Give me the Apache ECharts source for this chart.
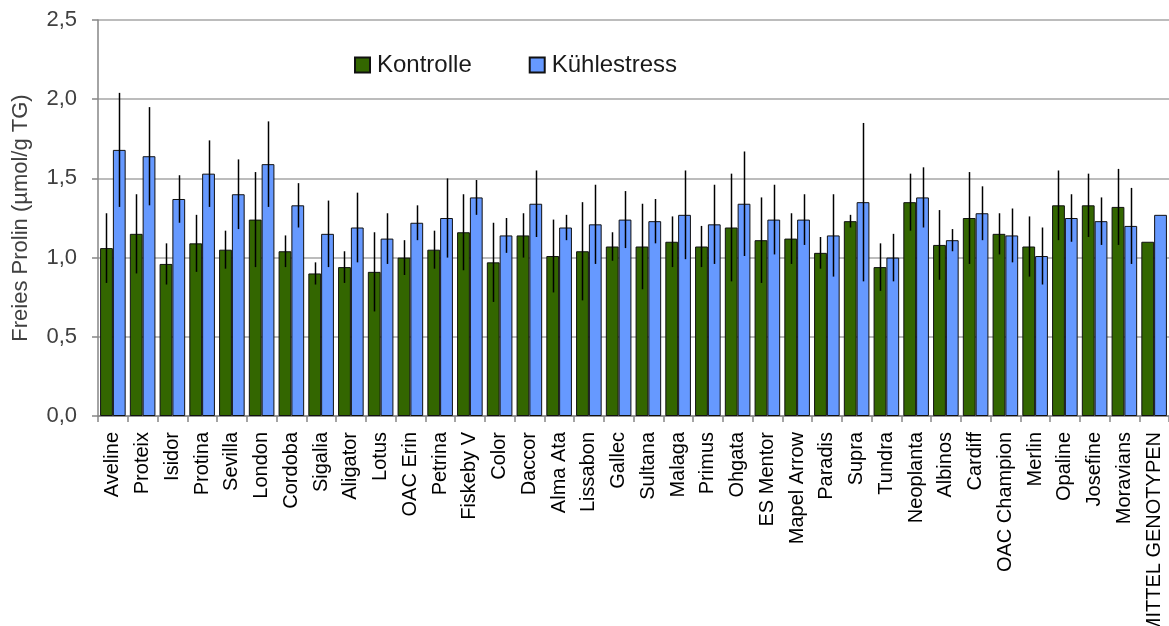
<!DOCTYPE html>
<html>
<head>
<meta charset="utf-8">
<script src="https://cdn.jsdelivr.net/npm/echarts@6/dist/echarts.min.js"></script>
<style>
  html, body { margin: 0; padding: 0; background: #ffffff; }
  #chart { width: 1169px; height: 626px; }
</style>
</head>
<body>
<div id="chart"></div>
<script>
// Sorten (Genotypen)
const categories = ['Aveline','Proteix','Isidor','Protina','Sevilla','London','Cordoba','Sigalia','Aligator','Lotus',
  'OAC Erin','Petrina','Fiskeby V','Color','Daccor','Alma Ata','Lissabon','Gallec','Sultana','Malaga',
  'Primus','Ohgata','ES Mentor','Mapel Arrow','Paradis','Supra','Tundra','Neoplanta','Albinos','Cardiff',
  'OAC Champion','Merlin','Opaline','Josefine','Moravians','MITTEL GENOTYPEN'];

// Freies Prolin, Mittelwerte (µmol/g TG)
const kontrolle = [1.06,1.15,0.96,1.09,1.05,1.24,1.04,0.90,0.94,0.91,
  1.00,1.05,1.16,0.97,1.14,1.01,1.04,1.07,1.07,1.10,
  1.07,1.19,1.11,1.12,1.03,1.23,0.94,1.35,1.08,1.25,
  1.15,1.07,1.33,1.33,1.32,1.10];
const kontrolleErr = [0.22,0.25,0.13,0.18,0.12,0.30,0.10,0.07,0.10,0.25,
  0.11,0.12,0.24,0.25,0.14,0.23,0.31,0.09,0.27,0.16,
  0.13,0.34,0.27,0.16,0.10,0.04,0.15,0.18,0.22,0.29,
  0.13,0.19,0.22,0.20,0.24,0];

const kuehlestress = [1.68,1.64,1.37,1.53,1.40,1.59,1.33,1.15,1.19,1.12,
  1.22,1.25,1.38,1.14,1.34,1.19,1.21,1.24,1.23,1.27,
  1.21,1.34,1.24,1.24,1.14,1.35,1.00,1.38,1.11,1.28,
  1.14,1.01,1.25,1.23,1.20,1.27];
const kuehlestressErr = [0.36,0.31,0.15,0.21,0.22,0.27,0.14,0.21,0.22,0.16,
  0.11,0.25,0.11,0.11,0.21,0.08,0.25,0.18,0.14,0.28,
  0.25,0.33,0.22,0.16,0.26,0.50,0.15,0.19,0.07,0.17,
  0.17,0.18,0.15,0.15,0.24,0];

const yTicks = { min: 0, max: 2.5, interval: 0.5 };

const FONT = '"Liberation Sans", Arial, sans-serif';
const CAT_GAP = 0.14;   // share of a category band left empty

function errorData(vals, errs) {
  const out = [];
  vals.forEach((v, i) => { if (errs[i] > 0) out.push([i, v - errs[i], v + errs[i]]); });
  return out;
}

// whisker drawn through the centre of the left (side=-1) or right (side=+1) bar
function errorRenderer(side) {
  return function (params, api) {
    const band = api.size([1, 0])[0];
    const barW = band * (1 - CAT_GAP) / 2;
    const lo = api.coord([api.value(0), api.value(1)]);
    const hi = api.coord([api.value(0), api.value(2)]);
    const x = Math.round(lo[0] + side * barW / 2) + 0.5;
    return {
      type: 'line',
      shape: { x1: x, y1: lo[1], x2: x, y2: hi[1] },
      style: { stroke: '#000000', lineWidth: 1.5 }
    };
  };
}

const chart = echarts.init(document.getElementById('chart'), null, { renderer: 'canvas' });

chart.setOption({
  animation: false,
  backgroundColor: '#ffffff',
  grid: { left: 98, right: 0, top: 20, bottom: 210, containLabel: false, outerBoundsMode: 'none' },
  legend: {
    data: ['Kontrolle', 'Kühlestress'],
    left: 349, top: 48,
    itemWidth: 15, itemHeight: 15, itemGap: 57,
    icon: 'rect',
    textStyle: { fontFamily: FONT, fontSize: 24, color: '#1a1a1a', padding: [0, 0, 0, 2] }
  },
  xAxis: {
    type: 'category',
    data: categories,
    boundaryGap: true,
    axisLine: { lineStyle: { color: '#868686', width: 1.5 } },
    axisTick: { show: true, interval: 0, length: 6, lineStyle: { color: '#868686', width: 1.5 } },
    axisLabel: { interval: 0, rotate: 90, margin: 16, fontFamily: FONT, fontSize: 20, color: '#000000' },
    splitLine: { show: false }
  },
  yAxis: {
    type: 'value',
    min: yTicks.min, max: yTicks.max, interval: yTicks.interval,
    name: 'Freies Prolin (µmol/g TG)',
    nameLocation: 'middle',
    nameGap: 66,
    nameRotate: 90,
    nameTextStyle: { fontFamily: FONT, fontSize: 22, color: '#404040' },
    axisLine: { show: true, lineStyle: { color: '#868686', width: 1.5 } },
    axisTick: { show: true, length: 6, lineStyle: { color: '#868686', width: 1.5 } },
    axisLabel: {
      margin: 21, fontFamily: FONT, fontSize: 22, color: '#404040',
      formatter: v => v.toFixed(1).replace('.', ',')
    },
    splitLine: { show: true, lineStyle: { color: '#a6a6a6', width: 1.5 } }
  },
  series: [
    {
      name: 'Kontrolle', type: 'bar', data: kontrolle,
      barGap: '0%', barCategoryGap: (CAT_GAP * 100) + '%',
      itemStyle: { color: '#336600', borderColor: '#111111', borderWidth: 1 }
    },
    {
      name: 'Kühlestress', type: 'bar', data: kuehlestress,
      barGap: '0%', barCategoryGap: (CAT_GAP * 100) + '%',
      itemStyle: { color: '#6699ff', borderColor: '#111111', borderWidth: 1 }
    },
    {
      name: 'err-k', type: 'custom', z: 5,
      renderItem: errorRenderer(-1),
      data: errorData(kontrolle, kontrolleErr),
      encode: { x: 0, y: [1, 2] }
    },
    {
      name: 'err-s', type: 'custom', z: 5,
      renderItem: errorRenderer(1),
      data: errorData(kuehlestress, kuehlestressErr),
      encode: { x: 0, y: [1, 2] }
    }
  ]
});
</script>
</body>
</html>
